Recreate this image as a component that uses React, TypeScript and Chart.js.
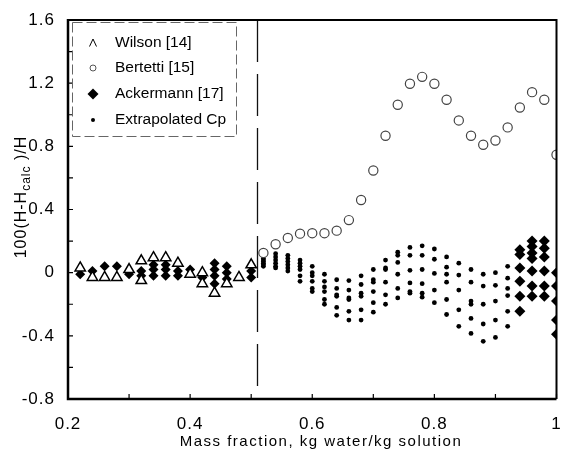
import React, { useEffect, useRef } from "react";
import { Chart, registerables } from "chart.js";

Chart.register(...registerables);

// ---- Data ----
const xTickValues = [0.2, 0.4, 0.6, 0.8, 1.0];
const yTickValues = [-0.8, -0.4, 0, 0.4, 0.8, 1.2, 1.6];

const wilsonX = [0.22, 0.24, 0.26, 0.28, 0.30, 0.32, 0.32, 0.34, 0.36, 0.38, 0.40, 0.42, 0.42, 0.44, 0.46, 0.48, 0.50];
const wilsonY = [0.03, -0.03, -0.03, -0.03, 0.02, 0.075, -0.05, 0.095, 0.095, 0.06, -0.01, 0.0, -0.07, -0.13, -0.07, -0.03, 0.05];

const bertettiX = [0.52, 0.54, 0.56, 0.58, 0.60, 0.62, 0.64, 0.66, 0.68, 0.70, 0.72, 0.74, 0.76, 0.78, 0.80, 0.82, 0.84, 0.86, 0.88, 0.90, 0.92, 0.94, 0.96, 0.98, 1.00];
const bertettiY = [0.125, 0.18, 0.22, 0.247, 0.25, 0.25, 0.266, 0.333, 0.46, 0.647, 0.867, 1.063, 1.196, 1.24, 1.196, 1.095, 0.964, 0.867, 0.81, 0.837, 0.92, 1.046, 1.143, 1.095, 0.747];

const ackermannX = [
  0.22, 0.24, 0.26, 0.28, 0.30, 0.32, 0.32, 0.34, 0.34, 0.34, 0.36, 0.36, 0.36, 0.38, 0.38, 0.40, 0.42,
  0.44, 0.44, 0.44, 0.44, 0.46, 0.46, 0.46, 0.50, 0.50,
  0.94, 0.94, 0.94, 0.94, 0.94, 0.94,
  0.96, 0.96, 0.96, 0.96, 0.96, 0.96, 0.96,
  0.98, 0.98, 0.98, 0.98, 0.98, 0.98,
  1.00, 1.00, 1.00, 1.00, 1.00,
];
const ackermannY = [
  -0.01, 0.01, 0.04, 0.04, -0.01, 0.01, -0.02, 0.05, 0.02, -0.02, 0.05, 0.02, -0.02, 0.01, -0.02, 0.02, -0.03,
  0.06, 0.02, -0.02, -0.07, 0.04, 0.0, -0.04, 0.01, -0.03,
  0.145, 0.115, 0.03, -0.055, -0.15, -0.245,
  0.2, 0.165, 0.125, 0.09, 0.01, -0.085, -0.15,
  0.2, 0.155, 0.10, 0.01, -0.085, -0.15,
  0.0, -0.085, -0.18, -0.30, -0.39,
];

const extrapX = [0.52, 0.54, 0.56, 0.58, 0.60, 0.62, 0.64, 0.66, 0.68, 0.70, 0.72, 0.74, 0.76, 0.78, 0.80, 0.82, 0.84, 0.86, 0.88, 0.90, 0.92];
const extrap1 = [0.09, 0.12, 0.11, 0.08, 0.04, -0.01, -0.045, -0.05, -0.02, 0.02, 0.08, 0.13, 0.16, 0.17, 0.15, 0.10, 0.06, 0.02, -0.01, 0.0, 0.04];
const extrap2 = [0.08, 0.10, 0.09, 0.06, 0.0, -0.055, -0.10, -0.11, -0.075, -0.045, 0.03, 0.11, 0.11, 0.11, 0.085, 0.035, -0.015, -0.06, -0.085, -0.08, -0.035];
const extrap3 = [0.07, 0.08, 0.07, 0.04, -0.02, -0.09, -0.14, -0.16, -0.13, -0.06, 0.02, 0.065, 0.015, 0.02, -0.005, -0.01, -0.11, -0.18, -0.20, -0.18, -0.10];
const extrap4 = [0.06, 0.06, 0.05, 0.02, -0.055, -0.12, -0.15, -0.17, -0.15, -0.12, -0.06, -0.01, -0.065, -0.07, -0.11, -0.06, -0.235, -0.20, -0.325, -0.30, -0.145];
const extrap5 = [0.05, 0.04, 0.03, -0.02, -0.10, -0.17, -0.22, -0.245, -0.235, -0.19, -0.14, -0.10, -0.12, -0.13, -0.19, -0.17, -0.34, -0.29, -0.435, -0.41, -0.245];
const extrap6 = [0.04, 0.03, 0.01, -0.055, -0.12, -0.20, -0.27, -0.30, -0.30, -0.25, -0.20, -0.16, -0.13, -0.155, null, -0.265, null, -0.385, null, null, -0.34];

const dividerX = 0.51;

const legendLabels = ["Wilson [14]", "Bertetti [15]", "Ackermann [17]", "Extrapolated Cp"];
const xTitle = "Mass fraction, kg water/kg solution";

// ---- helpers ----
function pairs(xs: number[], ys: (number | null)[]) {
  const out: { x: number; y: number }[] = [];
  xs.forEach((x, i) => {
    const y = ys[i];
    if (y !== null && y !== undefined) out.push({ x, y });
  });
  return out;
}

const FONT = "Arial, 'Liberation Sans', Helvetica, sans-serif";

const decorPlugin = {
  id: "decor",
  beforeDraw(chart: any) {
    (chart.ctx as any).letterSpacing = "1px";
  },
  beforeDatasetsDraw(chart: any) {
    const { ctx, chartArea, scales } = chart;
    const x = Math.round(scales.x.getPixelForValue(dividerX)) + 0.5;
    ctx.save();
    ctx.strokeStyle = "#111";
    ctx.lineWidth = 1.3;
    ctx.setLineDash([42, 12]);
    ctx.beginPath();
    ctx.moveTo(x, chartArea.top);
    ctx.lineTo(x, chartArea.bottom);
    ctx.stroke();
    ctx.restore();
  },
  afterDraw(chart: any) {
    const { ctx, chartArea, scales } = chart;
    const { left, right, top, bottom } = chartArea;
    ctx.save();
    (ctx as any).letterSpacing = "0px";
    // frame
    ctx.strokeStyle = "#000";
    ctx.lineWidth = 2;
    ctx.beginPath();
    ctx.moveTo(left, top);
    ctx.lineTo(right, top);
    ctx.lineTo(right, bottom);
    ctx.stroke();
    ctx.lineWidth = 2.5;
    ctx.beginPath();
    ctx.moveTo(left, top - 1);
    ctx.lineTo(left, bottom);
    ctx.lineTo(right, bottom);
    ctx.stroke();
    // inner ticks
    ctx.lineWidth = 1.2;
    ctx.beginPath();
    for (let v = -0.8; v <= 1.6001; v += 0.2) {
      const y = scales.y.getPixelForValue(v);
      ctx.moveTo(left, y);
      ctx.lineTo(left + 5, y);
    }
    for (let v = 0.2; v <= 1.0001; v += 0.1) {
      const xx = scales.x.getPixelForValue(v);
      ctx.moveTo(xx, bottom);
      ctx.lineTo(xx, bottom - 5);
    }
    ctx.stroke();

    // legend box
    ctx.strokeStyle = "#666";
    ctx.lineWidth = 1;
    ctx.setLineDash([10, 4]);
    ctx.strokeRect(72.5, 22.5, 164, 114);
    ctx.setLineDash([]);
    const rowsY = [43, 68, 94, 120];
    const sx = 93;
    // triangle
    ctx.strokeStyle = "#000";
    ctx.lineWidth = 1;
    ctx.beginPath();
    ctx.moveTo(sx - 3.5, rowsY[0] + 3.5);
    ctx.lineTo(sx, rowsY[0] - 4);
    ctx.lineTo(sx + 3.5, rowsY[0] + 3.5);
    ctx.stroke();
    // circle
    ctx.strokeStyle = "#555";
    ctx.beginPath();
    ctx.arc(sx, rowsY[1], 3, 0, Math.PI * 2);
    ctx.stroke();
    // diamond
    ctx.fillStyle = "#000";
    ctx.beginPath();
    ctx.moveTo(sx - 5.5, rowsY[2]);
    ctx.lineTo(sx, rowsY[2] - 5.5);
    ctx.lineTo(sx + 5.5, rowsY[2]);
    ctx.lineTo(sx, rowsY[2] + 5.5);
    ctx.closePath();
    ctx.fill();
    // dot
    ctx.beginPath();
    ctx.arc(sx, rowsY[3], 2, 0, Math.PI * 2);
    ctx.fill();
    // legend text
    ctx.font = `15.5px ${FONT}`;
    ctx.textBaseline = "middle";
    ctx.textAlign = "left";
    ctx.fillStyle = "#000";
    legendLabels.forEach((t, i) => ctx.fillText(t, 115, rowsY[i]));

    // x title
    (ctx as any).letterSpacing = "1.5px";
    ctx.font = `15px ${FONT}`;
    ctx.textAlign = "center";
    ctx.textBaseline = "alphabetic";
    ctx.fillText(xTitle, 321, 446);

    // y title
    (ctx as any).letterSpacing = "1px";
    ctx.translate(26, 197);
    ctx.rotate(-Math.PI / 2);
    const big = `16px ${FONT}`;
    const small = `12px ${FONT}`;
    const p1 = "100(H-H";
    const p2 = "calc";
    const p3 = " )/H";
    ctx.font = big;
    const w1 = ctx.measureText(p1).width;
    const w3 = ctx.measureText(p3).width;
    ctx.font = small;
    const w2 = ctx.measureText(p2).width;
    let cx = -(w1 + w2 + w3) / 2;
    ctx.textAlign = "left";
    ctx.font = big;
    ctx.fillText(p1, cx, 0);
    cx += w1;
    ctx.font = small;
    ctx.fillText(p2, cx, 4);
    cx += w2;
    ctx.font = big;
    ctx.fillText(p3, cx, 0);
    ctx.restore();
  },
};

export default function App() {
  const ref = useRef<HTMLCanvasElement | null>(null);
  useEffect(() => {
    if (!ref.current) return;
    const tickFont = { family: FONT, size: 17 };
    const chart = new Chart(ref.current, {
      type: "scatter",
      data: {
        datasets: [
          {
            label: legendLabels[0],
            data: pairs(wilsonX, wilsonY),
            pointStyle: "triangle",
            pointRadius: 6,
            backgroundColor: "#fff",
            borderColor: "#000",
            borderWidth: 1.5,
            clip: 0,
          },
          {
            label: legendLabels[1],
            data: pairs(bertettiX, bertettiY),
            pointStyle: "circle",
            pointRadius: 4.6,
            backgroundColor: "#fff",
            borderColor: "#444",
            borderWidth: 1.2,
            clip: 0,
          },
          {
            label: legendLabels[2],
            data: pairs(ackermannX, ackermannY),
            pointStyle: "rectRot",
            pointRadius: (c: any) => (c.raw && c.raw.x < 0.6 ? 5 : 5.5),
            backgroundColor: "#000",
            borderColor: "#000",
            borderWidth: 0,
            clip: 0,
          },
          {
            label: legendLabels[3],
            data: [
              ...pairs(extrapX, extrap1),
              ...pairs(extrapX, extrap2),
              ...pairs(extrapX, extrap3),
              ...pairs(extrapX, extrap4),
              ...pairs(extrapX, extrap5),
              ...pairs(extrapX, extrap6),
            ],
            pointStyle: "circle",
            pointRadius: 2.4,
            backgroundColor: "#000",
            borderColor: "#000",
            borderWidth: 0,
            clip: 0,
          },
        ],
      },
      options: {
        responsive: false,
        maintainAspectRatio: false,
        animation: false,
        layout: { padding: { top: 20, right: 3, left: 0, bottom: 0 } },
        plugins: { legend: { display: false }, tooltip: { enabled: false } },
        scales: {
          x: {
            type: "linear",
            min: 0.2,
            max: 1.0,
            afterBuildTicks: (s: any) => {
              s.ticks = xTickValues.map((v) => ({ value: v }));
            },
            ticks: {
              font: tickFont,
              color: "#000",
              padding: 7,
              maxRotation: 0,
              autoSkip: false,
              callback: (v: any) => String(Number(Number(v).toFixed(1))),
            },
            grid: { display: false },
            border: { display: false },
            afterFit: (s: any) => {
              s.height = 52;
              s.paddingLeft = 0;
              s.paddingRight = 0;
            },
          },
          y: {
            type: "linear",
            min: -0.8,
            max: 1.6,
            afterBuildTicks: (s: any) => {
              s.ticks = yTickValues.map((v) => ({ value: v }));
            },
            ticks: {
              font: tickFont,
              color: "#000",
              padding: 5,
              autoSkip: false,
              callback: (v: any) => String(Number(Number(v).toFixed(1))),
            },
            grid: { display: false },
            border: { display: false },
            afterFit: (s: any) => {
              s.width = 68;
              s.paddingTop = 0;
              s.paddingBottom = 0;
            },
          },
        },
      },
      plugins: [decorPlugin],
    } as any);
    return () => chart.destroy();
  }, []);
  return (
    <div style={{ position: "absolute", left: 0, top: 0, width: 564, height: 451, background: "#fff" }}>
      <canvas ref={ref} width={564} height={451} style={{ display: "block" }} />
    </div>
  );
}
